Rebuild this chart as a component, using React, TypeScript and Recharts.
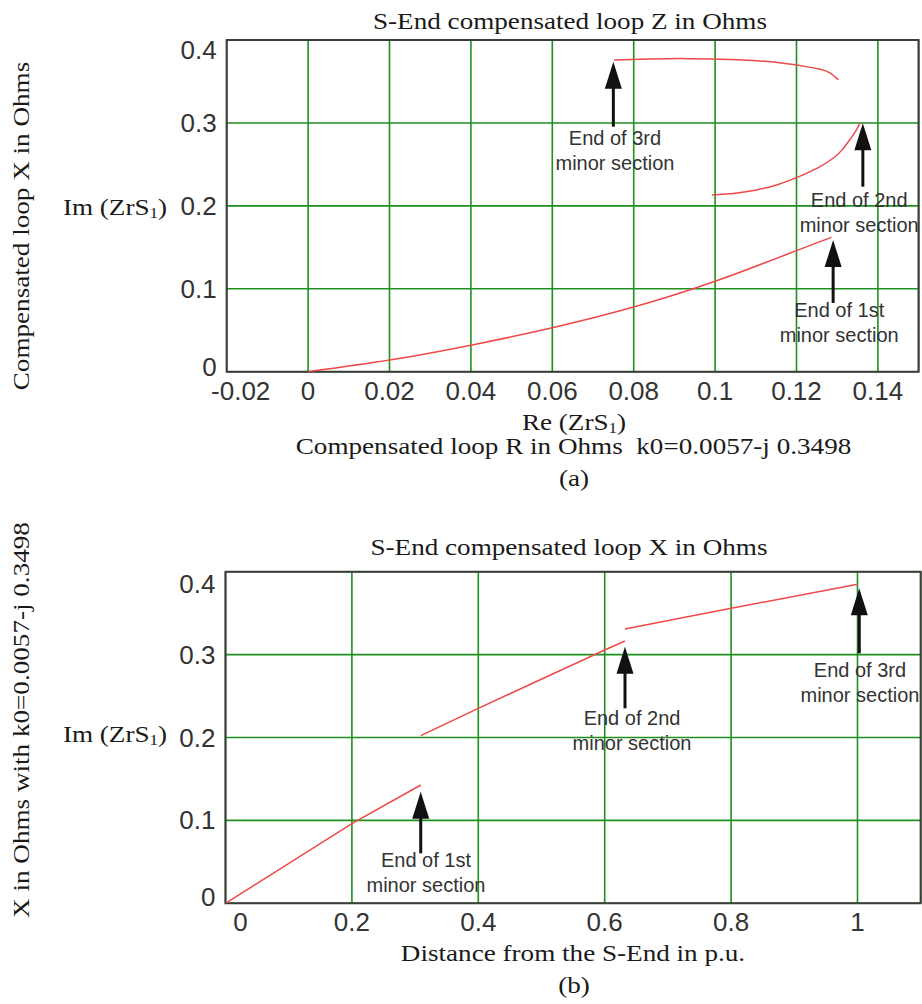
import React from 'react';
import {
  LineChart, Line, XAxis, YAxis, CartesianGrid,
  ReferenceArea, ReferenceLine, ReferenceDot,
} from 'recharts';

// (a) compensated loop impedance, Re vs Im
const reTicks = [-0.02, 0, 0.02, 0.04, 0.06, 0.08, 0.1, 0.12, 0.14];
const imTicks = [0, 0.1, 0.2, 0.3, 0.4];

const sec1Re = [0, 0.02, 0.04, 0.06, 0.08, 0.1, 0.12, 0.1286];
const sec1Im = [0, 0.014, 0.032, 0.053, 0.078, 0.109, 0.146, 0.162];
const sec2Re = [0.0992, 0.1049, 0.1102, 0.1155, 0.1206, 0.125, 0.129, 0.1313, 0.1331, 0.1345, 0.1356];
const sec2Im = [0.2131, 0.2153, 0.2192, 0.2258, 0.2352, 0.2451, 0.2574, 0.2681, 0.2797, 0.2897, 0.2997];
const sec3Re = [0.0752, 0.084, 0.0938, 0.1036, 0.111, 0.1172, 0.1221, 0.1258, 0.1282, 0.1303];
const sec3Im = [0.376, 0.3772, 0.3775, 0.3766, 0.3748, 0.3718, 0.3682, 0.3646, 0.3604, 0.3519];

// (b) compensated loop X along the line
const distTicks = [0, 0.2, 0.4, 0.6, 0.8, 1];
const seg1Dist = [0, 0.2, 0.309];
const seg1X = [0, 0.096, 0.1427];
const seg2Dist = [0.309, 0.4, 0.6, 0.632];
const seg2X = [0.2022, 0.2352, 0.3056, 0.3164];
const seg3Dist = [0.632, 0.8, 1.0];
const seg3X = [0.3309, 0.3558, 0.3848];

const noteLines = {
  first: ['End of 1st', 'minor section'],
  second: ['End of 2nd', 'minor section'],
  third: ['End of 3rd', 'minor section'],
};

// arrows + notes, in data units
const topNotes = [
  { x: 0.075, tip: 0.3738, tail: 0.2955, lx: 0.0754, ly: 0.2735, lines: noteLines.third },
  { x: 0.1363, tip: 0.2995, tail: 0.2231, lx: 0.1354, ly: 0.199, lines: noteLines.second },
  { x: 0.129, tip: 0.1588, tail: 0.0829, lx: 0.1305, ly: 0.0661, lines: noteLines.first },
];
const bottomNotes = [
  { x: 0.3089, tip: 0.1346, tail: 0.0603, lx: 0.3172, ly: 0.0441, lines: noteLines.first },
  { x: 0.6321, tip: 0.3095, tail: 0.2352, lx: 0.6432, ly: 0.2151, lines: noteLines.second },
  { x: 1.0028, tip: 0.38, tail: 0.3016, lx: 1.0039, ly: 0.2733, lines: noteLines.third },
];

const pts = (xs: number[], ys: number[]) => xs.map((x, i) => ({ x, y: ys[i] }));

const SANS = "'Liberation Sans', Arial, sans-serif";
const SERIF = "'Liberation Serif', 'Times New Roman', serif";
const GRID = '#1f8f1f';
const FRAME = '#3c3c3c';
const CURVE = '#f04848';

const makeXTick = (firstShift: number) => (props: any) => {
  const { x, y, payload, index } = props;
  return (
    <text x={x + (index === 0 ? firstShift : 0)} y={y + 28} textAnchor="middle"
      fontFamily={SANS} fontSize={26} fill="#333">{String(payload.value)}</text>
  );
};

// Mathcad pulls the end labels inside the frame a little
const makeYTick = (top: number, topShift: number, zeroShift: number) => (props: any) => {
  const { x, y, payload } = props;
  const dy = payload.value === top ? topShift : payload.value === 0 ? zeroShift : 0;
  return (
    <text x={x} y={y + 9 + dy} textAnchor="end" fontFamily={SANS} fontSize={26} fill="#333">
      {String(payload.value)}
    </text>
  );
};

const Arrow = (p: any) => {
  const { x1, y1, x2, y2 } = p;
  const head = 27;
  const half = 8.5;
  return (
    <g>
      <line x1={x1} y1={y1} x2={x2} y2={y2 + head - 2} stroke="#111" strokeWidth={3} />
      <polygon points={`${x2},${y2} ${x2 - half},${y2 + head} ${x2 + half},${y2 + head}`} fill="#111" />
    </g>
  );
};

const noteShape = (lines: string[]) => (p: any) => (
  <text x={p.cx} y={p.cy} textAnchor="middle" fontFamily={SANS} fontSize={20} fill="#333">
    <tspan x={p.cx}>{lines[0]}</tspan>
    <tspan x={p.cx} dy={25}>{lines[1]}</tspan>
  </text>
);

const Serif = ({ x, y, rotate, children }: any) => (
  <text transform={`translate(${x} ${y})${rotate ? ' rotate(-90)' : ''} scale(1.18 1)`}
    textAnchor="middle" fontFamily={SERIF} fontSize={23} fill="#1a1a1a">
    {children}
  </text>
);

const Sub1 = () => (
  <>
    <tspan fontSize={14.5} dy={3}>1</tspan><tspan dy={-3}>)</tspan>
  </>
);

export default function App() {
  return (
    <div style={{ position: 'absolute', left: 0, top: 0, width: 922, height: 1004, background: '#fff' }}>
      <div style={{ position: 'absolute', left: 0, top: 0 }}>
        <LineChart width={922} height={500} margin={{ top: 40, right: 3.4, bottom: 98.3, left: 166.7 }}>
          <CartesianGrid stroke={GRID} strokeWidth={1.6} />
          <XAxis type="number" dataKey="x" domain={[-0.02, 0.15]} ticks={reTicks} interval={0}
            height={30} axisLine={false} tickLine={false} tickSize={0} tickMargin={0}
            tick={makeXTick(14)} allowDataOverflow />
          <YAxis type="number" domain={[0, 0.4]} ticks={imTicks} interval={0} width={60}
            axisLine={false} tickLine={false} tickSize={0} tickMargin={10}
            tick={makeYTick(0.4, 10, -5)} allowDataOverflow />
          <ReferenceArea x1={-0.02} x2={0.15} y1={0} y2={0.4} fill="none" stroke={FRAME} strokeWidth={2} />
          <Line data={pts(sec1Re, sec1Im)} dataKey="y" type="natural" stroke={CURVE} strokeWidth={1.5} dot={false} isAnimationActive={false} />
          <Line data={pts(sec2Re, sec2Im)} dataKey="y" type="natural" stroke={CURVE} strokeWidth={1.5} dot={false} isAnimationActive={false} />
          <Line data={pts(sec3Re, sec3Im)} dataKey="y" type="natural" stroke={CURVE} strokeWidth={1.5} dot={false} isAnimationActive={false} />
          {topNotes.map((n, i) => (
            <ReferenceLine key={`a${i}`} segment={[{ x: n.x, y: n.tail }, { x: n.x, y: n.tip }]} shape={Arrow} />
          ))}
          {topNotes.map((n, i) => (
            <ReferenceDot key={`t${i}`} x={n.lx} y={n.ly} r={1} shape={noteShape(n.lines)} />
          ))}
        </LineChart>
      </div>

      <div style={{ position: 'absolute', left: 0, top: 500 }}>
        <LineChart width={922} height={504} margin={{ top: 71.7, right: 1.3, bottom: 70.7, left: 165.5 }}>
          <CartesianGrid stroke={GRID} strokeWidth={1.6} />
          <XAxis type="number" dataKey="x" domain={[0, 1.1]} ticks={distTicks} interval={0}
            height={30} axisLine={false} tickLine={false} tickSize={0} tickMargin={0}
            tick={makeXTick(15)} allowDataOverflow />
          <YAxis type="number" domain={[0, 0.4]} ticks={imTicks} interval={0} width={60}
            axisLine={false} tickLine={false} tickSize={0} tickMargin={10}
            tick={makeYTick(0.4, 12, -6)} allowDataOverflow />
          <ReferenceArea x1={0} x2={1.1} y1={0} y2={0.4} fill="none" stroke={FRAME} strokeWidth={2} />
          <Line data={pts(seg1Dist, seg1X)} dataKey="y" type="linear" stroke={CURVE} strokeWidth={1.5} dot={false} isAnimationActive={false} />
          <Line data={pts(seg2Dist, seg2X)} dataKey="y" type="linear" stroke={CURVE} strokeWidth={1.5} dot={false} isAnimationActive={false} />
          <Line data={pts(seg3Dist, seg3X)} dataKey="y" type="linear" stroke={CURVE} strokeWidth={1.5} dot={false} isAnimationActive={false} />
          {bottomNotes.map((n, i) => (
            <ReferenceLine key={`a${i}`} segment={[{ x: n.x, y: n.tail }, { x: n.x, y: n.tip }]} shape={Arrow} />
          ))}
          {bottomNotes.map((n, i) => (
            <ReferenceDot key={`t${i}`} x={n.lx} y={n.ly} r={1} shape={noteShape(n.lines)} />
          ))}
        </LineChart>
      </div>

      <svg width={922} height={1004} style={{ position: 'absolute', left: 0, top: 0, pointerEvents: 'none' }}>
        <Serif x={570} y={29}>S-End compensated loop Z in Ohms</Serif>
        <Serif x={29} y={226} rotate>Compensated loop X in Ohms</Serif>
        <Serif x={115} y={214.5}>Im (ZrS<Sub1 /></Serif>
        <Serif x={574} y={430}>Re (ZrS<Sub1 /></Serif>
        <Serif x={573.5} y={454}>Compensated loop R in Ohms&#160;&#160;k0=0.0057-j 0.3498</Serif>
        <Serif x={574} y={486}>(a)</Serif>

        <Serif x={569} y={555}>S-End compensated loop X in Ohms</Serif>
        <Serif x={29} y={720} rotate>X in Ohms with k0=0.0057-j 0.3498</Serif>
        <Serif x={115} y={741.5}>Im (ZrS<Sub1 /></Serif>
        <Serif x={573} y={961}>Distance from the S-End in p.u.</Serif>
        <Serif x={574} y={993}>(b)</Serif>
      </svg>
    </div>
  );
}
